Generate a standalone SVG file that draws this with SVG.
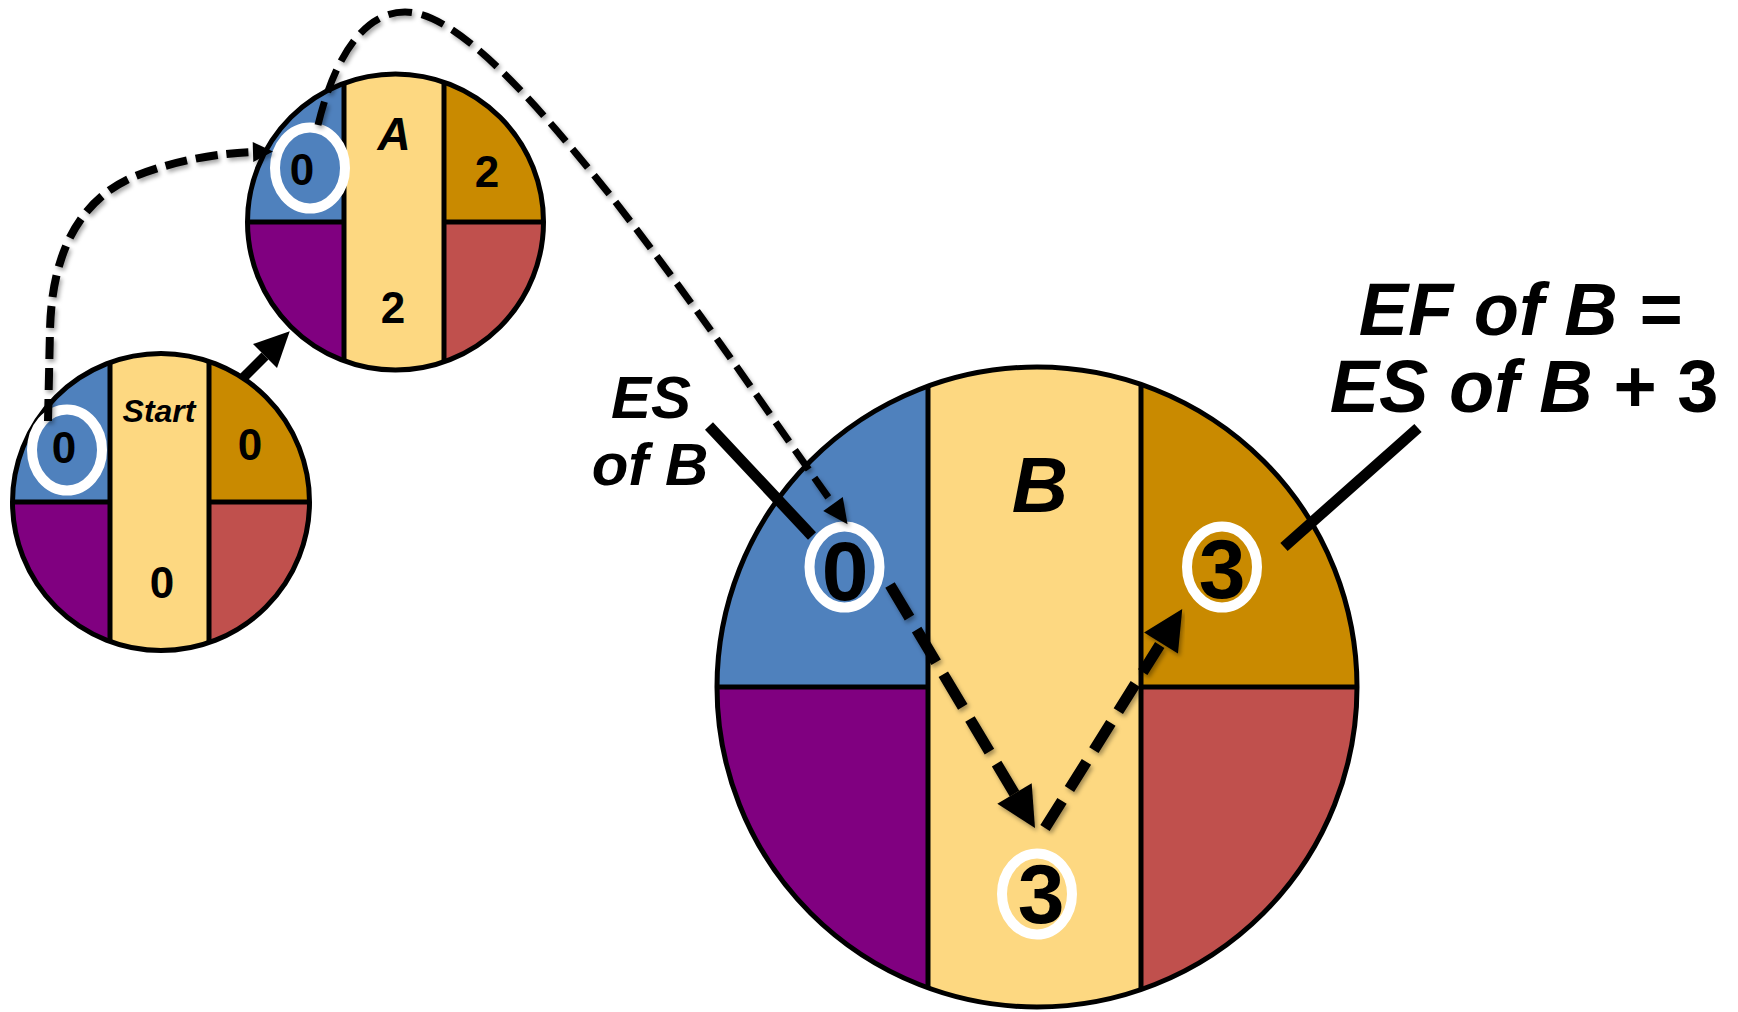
<svg xmlns="http://www.w3.org/2000/svg" width="1738" height="1012" viewBox="0 0 1738 1012">
<style>
.blue{fill:#4F81BD}.org{fill:#C98A00}.pur{fill:#800080}.red{fill:#C0504D}.yel{fill:#FDD881}
.edge{fill:none;stroke:#000;stroke-width:5}
.div{stroke:#000;stroke-width:5}
.ring{fill:none;stroke:#fff;stroke-width:10}
.num{font-family:"Liberation Sans",Arial,sans-serif;font-weight:bold;fill:#000;text-anchor:middle}
.lbl{font-family:"Liberation Sans",Arial,sans-serif;font-weight:bold;font-style:italic;fill:#000;text-anchor:middle}
.dash{fill:none;stroke:#000;stroke-linecap:butt}
.solid{fill:none;stroke:#000;stroke-linecap:butt}
</style>
<defs>
<clipPath id="cS"><circle cx="161" cy="502" r="148.5"/></clipPath>
<clipPath id="cA"><circle cx="395.5" cy="222" r="148"/></clipPath>
<clipPath id="cB"><circle cx="1037" cy="687" r="320"/></clipPath>
<marker id="mS" markerUnits="userSpaceOnUse" orient="auto" refX="0" refY="0" markerWidth="30" markerHeight="30" overflow="visible"><path d="M0,-10 L20,0 L0,10 z" fill="#000"/></marker>
<marker id="mM" markerUnits="userSpaceOnUse" orient="auto" refX="0" refY="0" markerWidth="30" markerHeight="30" overflow="visible"><path d="M0,-12 L25,0 L0,12 z" fill="#000"/></marker>
<marker id="mA" markerUnits="userSpaceOnUse" orient="auto" refX="0" refY="0" markerWidth="40" markerHeight="40" overflow="visible"><path d="M0,-17 L35,0 L0,17 z" fill="#000"/></marker>
<marker id="mL" markerUnits="userSpaceOnUse" orient="auto" refX="0" refY="0" markerWidth="45" markerHeight="45" overflow="visible"><path d="M0,-20 L40,0 L0,20 z" fill="#000"/></marker>
<filter id="sh" x="-20%" y="-20%" width="140%" height="140%"><feDropShadow dx="2" dy="3" stdDeviation="2" flood-color="#000" flood-opacity="0.35"/></filter>
</defs>
<rect width="1738" height="1012" fill="#fff"/>

<g id="node-start">
<g clip-path="url(#cS)">
<rect class="blue" x="0" y="340" width="110" height="162"/>
<rect class="pur" x="0" y="502" width="110" height="160"/>
<rect class="org" x="209" y="340" width="120" height="162"/>
<rect class="red" x="209" y="502" width="120" height="160"/>
<rect class="yel" x="110" y="340" width="99" height="322"/>
<line class="div" x1="110" y1="340" x2="110" y2="662"/>
<line class="div" x1="209" y1="340" x2="209" y2="662"/>
<line class="div" x1="0" y1="502" x2="110" y2="502"/>
<line class="div" x1="209" y1="502" x2="330" y2="502"/>
</g>
<circle class="edge" cx="161" cy="502" r="148.5"/>
<ellipse class="ring" cx="67" cy="450" rx="35" ry="40.5"/>
<text class="lbl" x="159" y="422" font-size="32">Start</text>
<text class="num" x="64" y="463" font-size="44">0</text>
<text class="num" x="250" y="460" font-size="44">0</text>
<text class="num" x="162" y="598" font-size="44">0</text>
</g>

<g id="node-a">
<g clip-path="url(#cA)">
<rect class="blue" x="240" y="70" width="104" height="152"/>
<rect class="pur" x="240" y="222" width="104" height="155"/>
<rect class="org" x="444" y="70" width="110" height="152"/>
<rect class="red" x="444" y="222" width="110" height="155"/>
<rect class="yel" x="344" y="70" width="100" height="307"/>
<line class="div" x1="344" y1="70" x2="344" y2="377"/>
<line class="div" x1="444" y1="70" x2="444" y2="377"/>
<line class="div" x1="240" y1="222" x2="344" y2="222"/>
<line class="div" x1="444" y1="222" x2="554" y2="222"/>
</g>
<circle class="edge" cx="395.5" cy="222" r="148"/>
<ellipse class="ring" cx="310" cy="168" rx="35" ry="40.5"/>
<text class="lbl" x="394" y="150" font-size="46">A</text>
<text class="num" x="302" y="185" font-size="44">0</text>
<text class="num" x="487" y="187" font-size="44">2</text>
<text class="num" x="393" y="323" font-size="44">2</text>
</g>

<g id="node-b">
<g clip-path="url(#cB)">
<rect class="blue" x="710" y="360" width="218" height="327"/>
<rect class="pur" x="710" y="687" width="218" height="330"/>
<rect class="org" x="1141" y="360" width="225" height="327"/>
<rect class="red" x="1141" y="687" width="225" height="330"/>
<rect class="yel" x="928" y="360" width="213" height="657"/>
<line class="div" x1="928" y1="360" x2="928" y2="1017"/>
<line class="div" x1="1141" y1="360" x2="1141" y2="1017"/>
<line class="div" x1="710" y1="687" x2="928" y2="687"/>
<line class="div" x1="1141" y1="687" x2="1366" y2="687"/>
</g>
<circle class="edge" cx="1037" cy="687" r="320"/>
<text class="lbl" x="1040" y="512" font-size="78">B</text>
<ellipse class="ring" cx="844.5" cy="567" rx="35" ry="40.5"/>
<text class="num" x="845" y="600" font-size="84">0</text>
<ellipse class="ring" cx="1222" cy="567" rx="35" ry="40.5"/>
<text class="num" x="1222" y="598" font-size="84">3</text>
<ellipse class="ring" cx="1037" cy="894" rx="35" ry="40.5"/>
<text class="num" x="1041" y="923" font-size="84">3</text>
</g>

<g id="label-es">
<text class="lbl" x="651" y="418" font-size="60">ES</text>
<text class="lbl" x="650" y="485" font-size="60">of B</text>
</g>
<g id="label-ef">
<text class="lbl" x="1520" y="335" font-size="74">EF of B =</text>
<text class="lbl" x="1524" y="412" font-size="74">ES of B <tspan font-style="normal">+ 3</tspan></text>
</g>

<g id="connectors">
<path class="dash" filter="url(#sh)" d="M48,421 L50,330 C52,245 85,198 133,177 C175,160 220,153 253,152" stroke-width="8" stroke-dasharray="22 9" marker-end="url(#mS)"/>
<path class="solid" d="M243,378 L265,356" stroke-width="10" marker-end="url(#mA)"/>
<path class="dash" filter="url(#sh)" d="M318,125 C335,55 365,12 405,12 C455,12 530,95 610,195 C700,310 780,430 833,504" stroke-width="7" stroke-dasharray="24 10" marker-end="url(#mM)"/>
<path class="dash" filter="url(#sh)" d="M890,585 L1014.5,793.6" stroke-width="11" stroke-dasharray="38 14" marker-end="url(#mL)"/>
<path class="dash" filter="url(#sh)" d="M1045,828 L1161,643" stroke-width="11" stroke-dasharray="32 14" marker-end="url(#mL)"/>
<path class="solid" d="M709,426 L812,536" stroke-width="11"/>
<path class="solid" d="M1418,428 L1284,547" stroke-width="11"/>
</g>
</svg>
